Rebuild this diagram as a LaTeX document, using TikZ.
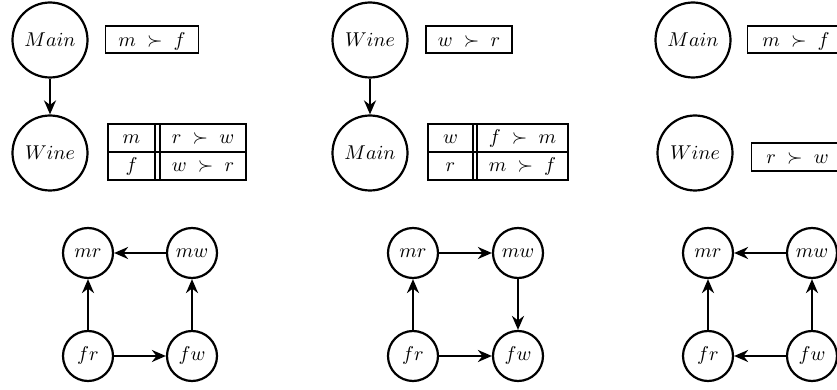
\documentclass[tikz,border=0pt]{standalone}
\usetikzlibrary{arrows.meta}
\begin{document}
\begin{tikzpicture}[x=0.5pt,y=-0.5pt,
  big/.style={circle,draw,line width=1.1pt,minimum size=37.5pt,inner sep=0pt},
  small/.style={circle,draw,line width=1.1pt,minimum size=25pt,inner sep=0pt},
  arr/.style={-{Stealth[length=7pt,width=6pt]},line width=1.1pt},
  box/.style={draw,line width=0.6pt},
  prefbox/.style={draw,line width=0.6pt,inner sep=0pt,minimum height=13.5pt,text height=8pt,text depth=1pt},
  cell/.style={anchor=base,inner sep=0pt}]
\useasboundingbox (0,0) rectangle (837,390);
\clip (0,0) rectangle (837,390);

% ---------- panel 1 ----------
\node[big] (m1) at (50,40) {$Main$};
\node[big] (w1) at (50,153) {$Wine$};
\draw[arr] (m1) -- (w1);
\node[prefbox,minimum width=46.5pt] (b1) at (152,39.5) {$m\;\succ\;f$};
\draw[box] (108,124) rectangle (246,180);
\draw[box] (108,152) -- (246,152);
\draw[box] (155,124) -- (155,180);
\draw[box] (160,124) -- (160,180);
\node[cell] (t1a) at (131.5,144) {$m$};
\node[cell] (t1b) at (203,144) {$r\;\succ\;w$};
\node[cell] (t1c) at (131.5,172) {$f$};
\node[cell] (t1d) at (203,172) {$w\;\succ\;r$};

\node[small] (mr1) at (88,253) {$mr$};
\node[small] (mw1) at (192,253) {$mw$};
\node[small] (fr1) at (88,356) {$fr$};
\node[small] (fw1) at (192,356) {$fw$};
\draw[arr] (mw1) -- (mr1);
\draw[arr] (fr1) -- (mr1);
\draw[arr] (fw1) -- (mw1);
\draw[arr] (fr1) -- (fw1);

% ---------- panel 2 ----------
\node[big] (w2) at (370,40) {$Wine$};
\node[big] (m2) at (370,153) {$Main$};
\draw[arr] (w2) -- (m2);
\node[prefbox,minimum width=43pt] (b2) at (469,39.5) {$w\;\succ\;r$};
\draw[box] (428,124) rectangle (568,180);
\draw[box] (428,152) -- (568,152);
\draw[box] (473,124) -- (473,180);
\draw[box] (477,124) -- (477,180);
\node[cell] (t2a) at (450.5,144) {$w$};
\node[cell] (t2b) at (522.5,144) {$f\;\succ\;m$};
\node[cell] (t2c) at (450.5,172) {$r$};
\node[cell] (t2d) at (522.5,172) {$m\;\succ\;f$};

\node[small] (mr2) at (413,253) {$mr$};
\node[small] (mw2) at (518,253) {$mw$};
\node[small] (fr2) at (413,356) {$fr$};
\node[small] (fw2) at (518,356) {$fw$};
\draw[arr] (mr2) -- (mw2);
\draw[arr] (fr2) -- (mr2);
\draw[arr] (mw2) -- (fw2);
\draw[arr] (fr2) -- (fw2);

% ---------- panel 3 ----------
\node[big] (m3) at (693,40) {$Main$};
\node[big] (w3) at (695,153) {$Wine$};
\node[box,anchor=west,minimum width=50pt,minimum height=13.5pt,inner sep=0pt] (b3) at (747,39.5) {};
\node[cell,anchor=base west] (b3t) at (762,46.5) {$m\;\succ\;f$};
\node[box,anchor=west,minimum width=50pt,minimum height=14pt,inner sep=0pt] (b4) at (751,157) {};
\node[cell,anchor=base west] (b4t) at (766,163.5) {$r\;\succ\;w$};

\node[small] (mr3) at (708,253) {$mr$};
\node[small] (mw3) at (812,253) {$mw$};
\node[small] (fr3) at (708,356) {$fr$};
\node[small] (fw3) at (812,356) {$fw$};
\draw[arr] (mw3) -- (mr3);
\draw[arr] (fr3) -- (mr3);
\draw[arr] (fw3) -- (mw3);
\draw[arr] (fw3) -- (fr3);
\end{tikzpicture}
\end{document}
